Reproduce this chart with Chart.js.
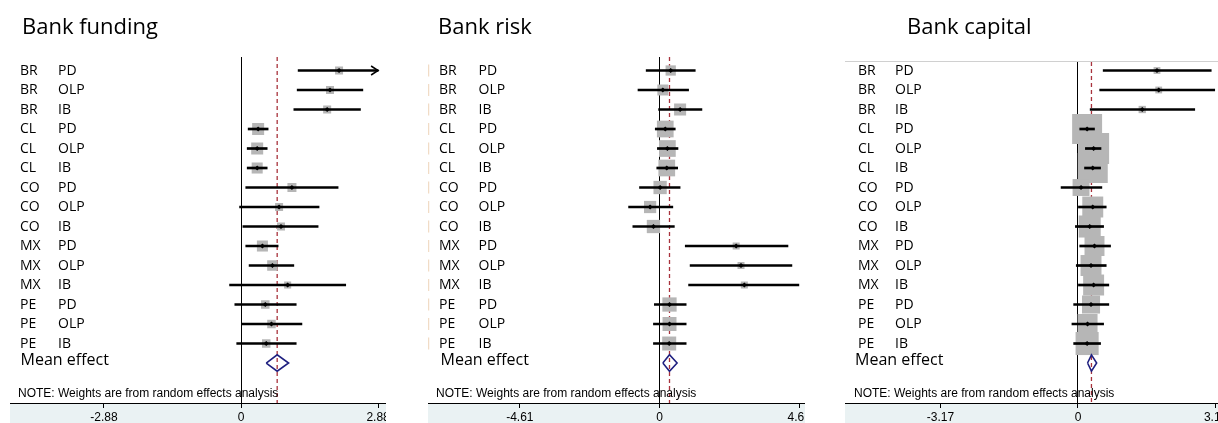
<!DOCTYPE html>
<html>
<head>
<meta charset="utf-8">
<title>Forest plots: bank funding, risk and capital</title>
<script src="https://cdn.jsdelivr.net/npm/chart.js@4.4.1/dist/chart.umd.min.js"></script>
<style>
  html, body { margin: 0; padding: 0; background: #fff; }
  body { width: 1218px; height: 423px; position: relative; overflow: hidden; }
  .panel { position: absolute; top: 0; height: 423px; overflow: hidden; }
  .panel canvas { position: absolute; left: 0; top: 0; }
</style>
</head>
<body>
<div class="panel" style="left:0px;width:386px"><canvas id="funding" width="420" height="423"></canvas></div>
<div class="panel" style="left:428px;width:377px"><canvas id="risk" width="420" height="423"></canvas></div>
<div class="panel" style="left:845px;width:373px"><canvas id="capital" width="420" height="423"></canvas></div>

<script>
// ---- Study rows (country, measure) ----
const countryCodes = ['BR', 'BR', 'BR', 'CL', 'CL', 'CL', 'CO', 'CO', 'CO', 'MX', 'MX', 'MX', 'PE', 'PE', 'PE'];
const measureCodes = ['PD', 'OLP', 'IB', 'PD', 'OLP', 'IB', 'PD', 'OLP', 'IB', 'PD', 'OLP', 'IB', 'PD', 'OLP', 'IB'];
const meanLabel = 'Mean effect';
const noteText = 'NOTE: Weights are from random effects analysis';

// ---- Bank funding ----
const fundingEst    = [2.06, 1.87, 1.81, 0.36, 0.34, 0.34, 1.07, 0.80, 0.84, 0.45, 0.66, 0.98, 0.51, 0.64, 0.53];
const fundingLow    = [1.20, 1.18, 1.11, 0.15, 0.13, 0.13, 0.10, -0.03, 0.04, 0.10, 0.17, -0.24, -0.13, 0.01, -0.09];
const fundingHigh   = [2.92, 2.56, 2.51, 0.57, 0.55, 0.55, 2.04, 1.64, 1.62, 0.78, 1.11, 2.20, 1.16, 1.28, 1.16];
const fundingWeight = [4.9, 4.9, 4.9, 11.0, 11.0, 9.3, 6.2, 4.9, 4.9, 9.3, 8.4, 3.8, 5.5, 5.5, 5.5];
const fundingMean   = [0.53, 0.76, 1.00];          // lower, estimate, upper
const fundingTicks  = [-2.88, 0, 2.88];
const fundingTickLabels = ['-2.88', '0', '2.88'];

// ---- Bank risk ----
const riskEst    = [0.37, 0.11, 0.68, 0.19, 0.26, 0.24, 0.02, -0.31, -0.20, 2.53, 2.69, 2.80, 0.33, 0.33, 0.32];
const riskLow    = [-0.44, -0.71, -0.03, -0.14, -0.07, -0.09, -0.66, -1.02, -0.88, 0.85, 1.01, 0.96, -0.17, -0.20, -0.20];
const riskHigh   = [1.18, 0.96, 1.40, 0.52, 0.61, 0.60, 0.68, 0.44, 0.49, 4.24, 4.37, 4.60, 0.88, 0.88, 0.88];
const riskWeight = [4.3, 4.9, 5.9, 11.4, 11.4, 11.4, 7.2, 6.1, 7.2, 2.0, 2.0, 2.0, 8.3, 8.0, 8.0];
const riskMean   = [0.11, 0.33, 0.58];
const riskTicks  = [-4.61, 0, 4.61];
const riskTickLabels = ['-4.61', '0', '4.61'];

// ---- Bank capital ----
const capitalEst    = [1.82, 1.86, 1.48, 0.21, 0.36, 0.34, 0.07, 0.34, 0.27, 0.38, 0.30, 0.36, 0.30, 0.22, 0.21];
const capitalLow    = [0.58, 0.50, 0.28, 0.04, 0.17, 0.15, -0.39, 0.01, -0.06, 0.04, -0.04, 0.01, -0.10, -0.14, -0.10];
const capitalHigh   = [3.07, 3.15, 2.69, 0.38, 0.53, 0.52, 0.55, 0.65, 0.59, 0.75, 0.65, 0.71, 0.71, 0.59, 0.52];
const capitalWeight = [0.7, 0.7, 0.8, 13.5, 14.4, 13.5, 4.3, 6.6, 7.3, 6.0, 6.6, 6.6, 4.9, 6.0, 8.0];
const capitalMean   = [0.22, 0.31, 0.43];
const capitalTicks  = [-3.17, 0, 3.17];
const capitalTickLabels = ['-3.17', '0', '3.17'];

// ---- Layout ----
const rows = countryCodes.map((_, i) => i + 1);
const meanRow = rows.length + 1;
const CANVAS_W = 420;
const PAD_RIGHT = 10;

Chart.defaults.font.family = '"Liberation Sans", Arial, sans-serif';
Chart.defaults.color = '#000';

// Background band, labels, notes and truncation arrows
const forestDecor = {
  id: 'forestDecor',
  beforeDraw(chart, args, o) {
    const { ctx, chartArea: ca, width, height } = chart;
    ctx.save();
    ctx.fillStyle = '#eaf2f3';
    ctx.fillRect(ca.left, ca.bottom, width - ca.left, height - ca.bottom);
    if (o.topRule) {
      ctx.strokeStyle = '#d0d0d0';
      ctx.lineWidth = 1;
      ctx.beginPath();
      ctx.moveTo(ca.left, ca.top - 0.5);
      ctx.lineTo(width, ca.top - 0.5);
      ctx.stroke();
    }
    if (o.edgeTint) {
      const y = chart.scales.y;
      ctx.strokeStyle = '#f1dcc6';
      ctx.lineWidth = 1.5;
      rows.forEach(r => {
        const py = y.getPixelForValue(r);
        ctx.beginPath();
        ctx.moveTo(ca.left + 0.5, py - 6);
        ctx.lineTo(ca.left + 0.5, py + 6);
        ctx.stroke();
      });
    }
    ctx.restore();
  },
  afterDraw(chart, args, o) {
    const { ctx, chartArea: ca, scales: { x, y } } = chart;
    ctx.save();
    ctx.fillStyle = '#000';
    ctx.textAlign = 'left';
    ctx.textBaseline = 'alphabetic';

    ctx.font = '22px "Open Sans"';
    ctx.fillText(o.title, o.titleX, 34);

    ctx.font = '14px "Open Sans"';
    rows.forEach((r, i) => {
      const py = y.getPixelForValue(r) + 4;
      ctx.fillText(countryCodes[i], ca.left + o.countryX, py);
      ctx.fillText(measureCodes[i], ca.left + o.measureX, py);
    });

    ctx.font = '16px "Open Sans"';
    ctx.fillText(meanLabel, ca.left + o.meanX, y.getPixelForValue(meanRow) + 1.5);

    ctx.font = '12px "Liberation Sans"';
    ctx.fillText(noteText, ca.left + o.noteX, ca.bottom - 6);

    // open arrowhead where an interval runs past the last tick
    ctx.strokeStyle = '#000';
    ctx.lineWidth = 1.5;
    o.high.forEach((h, i) => {
      if (h > o.limit) {
        const px = x.getPixelForValue(o.limit);
        const py = y.getPixelForValue(rows[i]);
        ctx.beginPath();
        ctx.moveTo(px - 7, py - 4.5);
        ctx.lineTo(px, py);
        ctx.lineTo(px - 7, py + 4.5);
        ctx.stroke();
      }
    });
    ctx.restore();
  }
};

function forest(id, p) {
  const limit = p.ticks[p.ticks.length - 1];
  const plotLeft = p.left + p.padLeft;                 // page x of the plot's left edge
  const plotRight = p.left + CANVAS_W - PAD_RIGHT;     // page x of the plot's right edge
  const xMin = (plotLeft - p.zero) / p.unit;
  const xMax = (plotRight - p.zero) / p.unit;
  const yMin = 1 - (70.5 - p.top) / 19.5;
  const yMax = 18.05;
  const h = 0.42; // diamond half-height in rows
  const [mLo, mEst, mHi] = p.mean;

  return new Chart(document.getElementById(id), {
    type: 'scatter',
    data: {
      datasets: [
        {
          type: 'scatter', showLine: true, order: 6,
          data: [{ x: mEst, y: yMin }, { x: mEst, y: yMax }],
          borderColor: '#a8323c', borderWidth: 1.3, borderDash: [4, 3], pointRadius: 0
        },
        {
          type: 'scatter', order: 5,
          data: p.est.map((v, i) => ({ x: v, y: rows[i] })),
          pointStyle: 'rect',
          pointRadius: c => p.boxScale * Math.sqrt(p.weight[c.dataIndex]) / Math.SQRT2,
          backgroundColor: '#b6b6b6', borderWidth: 0
        },
        {
          type: 'bar', indexAxis: 'y', order: 4,
          data: p.low.map((v, i) => ({ x: [v, Math.min(p.high[i], limit)], y: rows[i] })),
          backgroundColor: '#000', borderWidth: 0, barThickness: 2
        },
        {
          type: 'scatter', order: 3,
          data: p.est.map((v, i) => ({ x: v, y: rows[i] })),
          pointStyle: 'rectRot', pointRadius: 2.6, backgroundColor: '#000', borderWidth: 0
        },
        {
          type: 'scatter', showLine: true, order: 2,
          data: [
            { x: mLo, y: meanRow }, { x: mEst, y: meanRow - h }, { x: mHi, y: meanRow },
            { x: mEst, y: meanRow + h }, { x: mLo, y: meanRow }
          ],
          borderColor: '#1f2080', borderWidth: 1.6, borderJoinStyle: 'miter',
          pointRadius: 0, tension: 0
        }
      ]
    },
    options: {
      responsive: false,
      animation: false,
      events: [],
      layout: {
        autoPadding: false,
        padding: { left: p.padLeft, right: PAD_RIGHT, top: p.top, bottom: 0 }
      },
      plugins: {
        legend: { display: false },
        tooltip: { enabled: false },
        forestDecor: {
          title: p.title, titleX: p.titleX,
          countryX: p.labels[0], measureX: p.labels[1], meanX: p.labels[2], noteX: p.labels[3],
          high: p.high, limit: limit, topRule: !!p.topRule, edgeTint: !!p.edgeTint
        }
      },
      scales: {
        x: {
          type: 'linear', position: 'bottom', min: xMin, max: xMax, offset: false,
          afterBuildTicks: s => { s.ticks = p.ticks.map(v => ({ value: v })); },
          afterFit: s => { s.height = 20; s.paddingLeft = 0; s.paddingRight = 0; },
          ticks: {
            autoSkip: false, maxRotation: 0, padding: 2,
            font: { size: 12 }, color: '#000',
            callback: (v, i) => p.tickLabels[i]
          },
          grid: {
            drawOnChartArea: true, drawTicks: true, tickLength: 5,
            color: c => (c.tick && c.tick.value === 0) ? '#000' : 'rgba(0,0,0,0)',
            tickColor: '#000', lineWidth: 1
          },
          border: { display: true, color: '#000', width: 1 }
        },
        y: {
          type: 'linear', reverse: true, min: yMin, max: yMax, offset: false,
          display: false, grid: { display: false, offset: false },
          afterFit: s => { s.width = 0; s.paddingTop = 0; s.paddingBottom = 0; }
        }
      }
    },
    plugins: [forestDecor]
  });
}

forest('funding', {
  title: 'Bank funding', titleX: 22, left: 0, padLeft: 10, zero: 241, unit: 47.6, top: 57,
  est: fundingEst, low: fundingLow, high: fundingHigh, weight: fundingWeight, mean: fundingMean,
  ticks: fundingTicks, tickLabels: fundingTickLabels, boxScale: 3.62,
  labels: [10, 48, 10.5, 8]
});
forest('risk', {
  title: 'Bank risk', titleX: 10, left: 428, padLeft: 0, zero: 659.5, unit: 30.3, top: 57,
  est: riskEst, low: riskLow, high: riskHigh, weight: riskWeight, mean: riskMean,
  ticks: riskTicks, tickLabels: riskTickLabels, boxScale: 4.95,
  labels: [11, 50.5, 12.5, 8], edgeTint: true
});
forest('capital', {
  title: 'Bank capital', titleX: 62, left: 845, padLeft: 0, zero: 1078, unit: 43.4, top: 62,
  est: capitalEst, low: capitalLow, high: capitalHigh, weight: capitalWeight, mean: capitalMean,
  ticks: capitalTicks, tickLabels: capitalTickLabels, boxScale: 8.16,
  labels: [13, 50, 10, 9], topRule: true
});
</script>
</body>
</html>
